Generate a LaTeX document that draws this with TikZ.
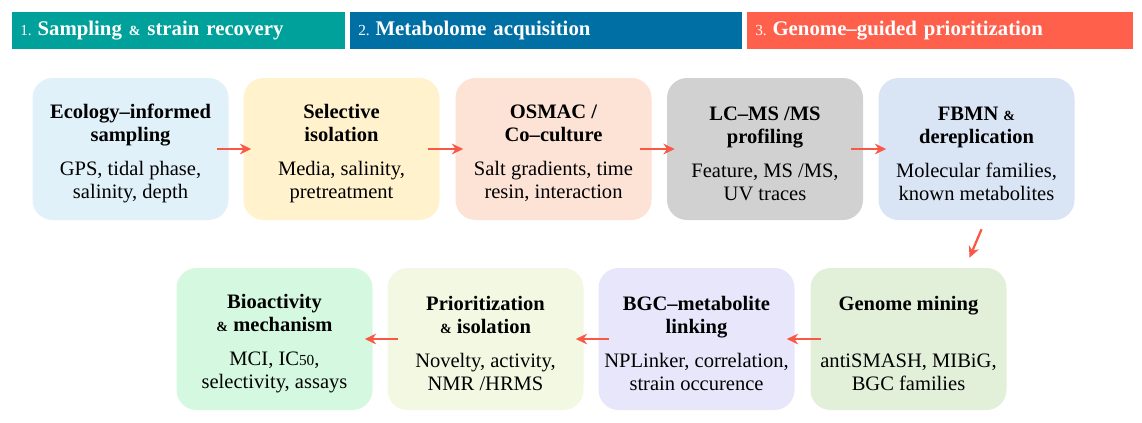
\documentclass[tikz,border=0pt]{standalone}
\usepackage{fontspec}
\setmainfont{Liberation Serif}
\usetikzlibrary{positioning,arrows.meta}
\definecolor{phaseteal}{RGB}{0,161,154}
\definecolor{phaseblue}{RGB}{0,112,164}
\definecolor{phasecoral}{RGB}{255,96,76}
\definecolor{arrowred}{RGB}{250,88,70}
\definecolor{ecoblue}{RGB}{224,241,250}
\definecolor{selyellow}{RGB}{255,242,204}
\definecolor{osmacpeach}{RGB}{253,226,214}
\definecolor{lcmsgray}{RGB}{209,209,209}
\definecolor{fbmnblue}{RGB}{217,228,245}
\definecolor{genomegreen}{RGB}{226,240,217}
\definecolor{bgclilac}{RGB}{232,230,250}
\definecolor{priorlime}{RGB}{242,248,226}
\definecolor{biomint}{RGB}{213,248,224}
\newcommand{\smallamp}{{\fontsize{10.5}{12}\selectfont\&}}
\newcommand{\cardtop}{\rule{0pt}{17pt}}
\newcommand{\cardhead}[1]{{\fontsize{15.4}{17.25}\selectfont\bfseries #1}}

\begin{document}
\begin{tikzpicture}[x=0.75pt, y=-0.75pt,
  every node/.style={font=\fontsize{15.4}{17.25}\selectfont},
  phase/.style 2 args={fill=#1, text=white, anchor=north west,
    text width=#2, align=left, inner xsep=6pt,
    minimum height=27.75pt, font=\bfseries\fontsize{15.6}{18}\selectfont},
  card/.style={fill=#1, rounded corners=15pt, align=center, inner sep=0pt,
    minimum width=147pt, minimum height=106.5pt},
  arr/.style={-{Stealth[length=8.5pt, width=8pt]}, line width=1.7pt, draw=arrowred},
]
\useasboundingbox (0,0) rectangle (1142,422);

% ── phase banners
\node[phase={phaseteal}{237.75pt}]  at ( 12, 12) (phaseA)
  {{\mdseries\fontsize{11.5}{13}\selectfont 1.}\;Sampling \smallamp{} strain recovery};
\node[phase={phaseblue}{282pt}]     at (350, 12) (phaseB)
  {{\mdseries\fontsize{11.5}{13}\selectfont 2.}\;Metabolome acquisition};
\node[phase={phasecoral}{277.5pt}]  at (747, 12) (phaseC)
  {{\mdseries\fontsize{11.5}{13}\selectfont 3.}\;Genome--guided prioritization};

% ── row 1 (left to right)
\node[card=ecoblue]    at (130.5, 149) (eco)
  {\cardtop\cardhead{Ecology--informed}\\\cardhead{sampling}\\[8.25pt]GPS, tidal phase,\\salinity, depth};
\node[card=selyellow]  at (341.5, 149) (selective)
  {\cardtop\cardhead{Selective}\\\cardhead{isolation}\\[8.25pt]Media, salinity,\\pretreatment};
\node[card=osmacpeach] at (553.5, 149) (osmac)
  {\cardtop\cardhead{OSMAC /}\\\cardhead{Co--culture}\\[8.25pt]Salt gradients, time\\resin, interaction};
\node[card=lcmsgray]   at (765.0, 149) (lcms)
  {\cardtop\cardhead{LC--MS /MS}\\\cardhead{profiling}\\[8.25pt]Feature, MS /MS,\\UV traces};
\node[card=fbmnblue]   at (976.5, 149) (fbmn)
  {\cardtop\cardhead{FBMN \smallamp}\\\cardhead{dereplication}\\[8.25pt]Molecular families,\\known metabolites};

% ── row 2 (right to left)
\node[card=genomegreen] at (908.5, 339) (genome)
  {\cardtop\cardhead{Genome mining}\\[25.5pt]antiSMASH, MIBiG,\\BGC families};
\node[card=bgclilac]    at (696.5, 339) (bgc)
  {\cardtop\cardhead{BGC--metabolite}\\\cardhead{linking}\\[8.25pt]NPLinker, correlation,\\strain occurence};
\node[card=priorlime]   at (485.5, 339) (prior)
  {\cardtop\cardhead{Prioritization}\\\cardhead{\smallamp{} isolation}\\[8.25pt]Novelty, activity,\\NMR /HRMS};
\node[card=biomint]     at (274.5, 339) (bioact)
  {\cardtop\cardhead{Bioactivity}\\\cardhead{\smallamp{} mechanism}\\[8.25pt]MCI, IC{\fontsize{11.5}{13}\selectfont 50},\\selectivity, assays};

% ── arrows
\draw[arr] ([xshift=-9pt]eco.east)       -- ([xshift=6pt]selective.west);
\draw[arr] ([xshift=-9pt]selective.east) -- ([xshift=6pt]osmac.west);
\draw[arr] ([xshift=-9pt]osmac.east)     -- ([xshift=6pt]lcms.west);
\draw[arr] ([xshift=-9pt]lcms.east)      -- ([xshift=6pt]fbmn.west);

\draw[arr] ([shift={(5,9)}]fbmn.south)   -- ([shift={(61,-10)}]genome.north);

\draw[arr] ([xshift=8pt]genome.west)     -- ([xshift=-6pt]bgc.east);
\draw[arr] ([xshift=8pt]bgc.west)        -- ([xshift=-6pt]prior.east);
\draw[arr] ([xshift=8pt]prior.west)      -- ([xshift=-6pt]bioact.east);

\end{tikzpicture}
\end{document}
